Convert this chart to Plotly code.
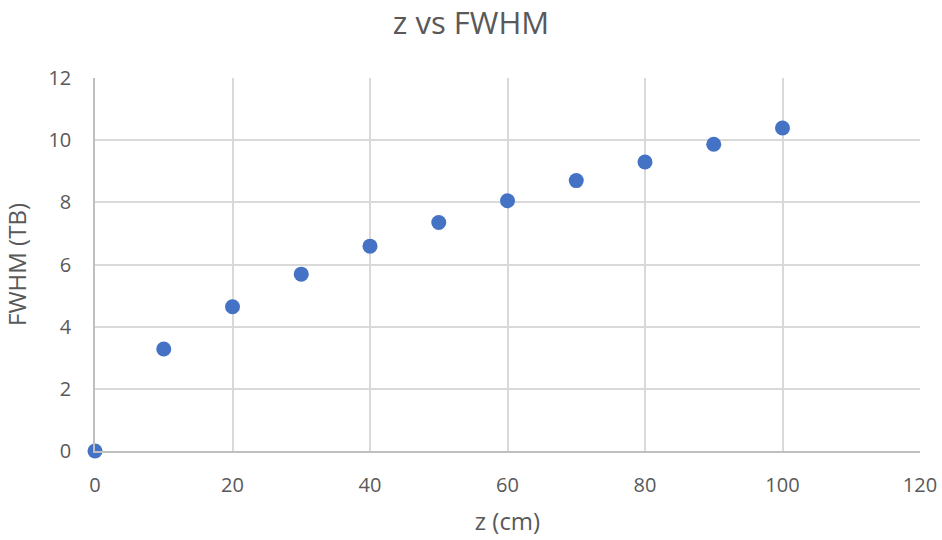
import plotly.graph_objects as go

z_cm = [0, 10, 20, 30, 40, 50, 60, 70, 80, 90, 100]
fwhm_tb = [0, 3.28, 4.64, 5.69, 6.59, 7.35, 8.05, 8.70, 9.30, 9.87, 10.39]

x_ticks = [0, 20, 40, 60, 80, 100, 120]
y_ticks = [0, 2, 4, 6, 8, 10, 12]

font_family = "'Open Sans', sans-serif"
grey = "#595959"
grid = "#D9D9D9"

fig = go.Figure()
fig.add_trace(go.Scatter(
    x=z_cm, y=fwhm_tb, mode="markers",
    marker=dict(size=15, color="#4472C4", line=dict(width=0)),
    cliponaxis=False, showlegend=False,
))

fig.update_layout(
    width=942, height=540,
    margin=dict(l=95, r=22, t=78, b=89, autoexpand=False),
    paper_bgcolor="white", plot_bgcolor="white",
    title=dict(text="z vs FWHM", x=0.5, xanchor="center", y=0.958, yanchor="middle",
               font=dict(family=font_family, size=31, color=grey), automargin=False),
    font=dict(family=font_family, color=grey, size=20),
)
fig.update_xaxes(
    range=[0, 120], tickvals=x_ticks, ticktext=[str(v) for v in x_ticks],
    showgrid=True, gridcolor=grid, gridwidth=1.5,
    showline=True, linecolor="#BFBFBF", linewidth=1.5, mirror=False,
    zeroline=False, ticks="", ticklen=0, ticklabelstandoff=15, automargin=False,
    tickfont=dict(size=20, color=grey),
    title=dict(text="z (cm)", font=dict(size=24, color=grey), standoff=16),
)
fig.update_yaxes(
    range=[0, 12], tickvals=y_ticks, ticktext=[str(v) for v in y_ticks],
    showgrid=True, gridcolor=grid, gridwidth=1.5,
    showline=True, linecolor="#BFBFBF", linewidth=1.5,
    zeroline=False, ticks="", ticklen=0, ticklabelstandoff=18, automargin=False,
    tickfont=dict(size=20, color=grey),
    title=dict(text="FWHM (TB)", font=dict(size=24, color=grey), standoff=21),
)

fig.write_html(
    "out.html",
    config={"displayModeBar": False},
    post_script="document.body.style.margin='0';document.body.style.overflow='hidden';",
)
